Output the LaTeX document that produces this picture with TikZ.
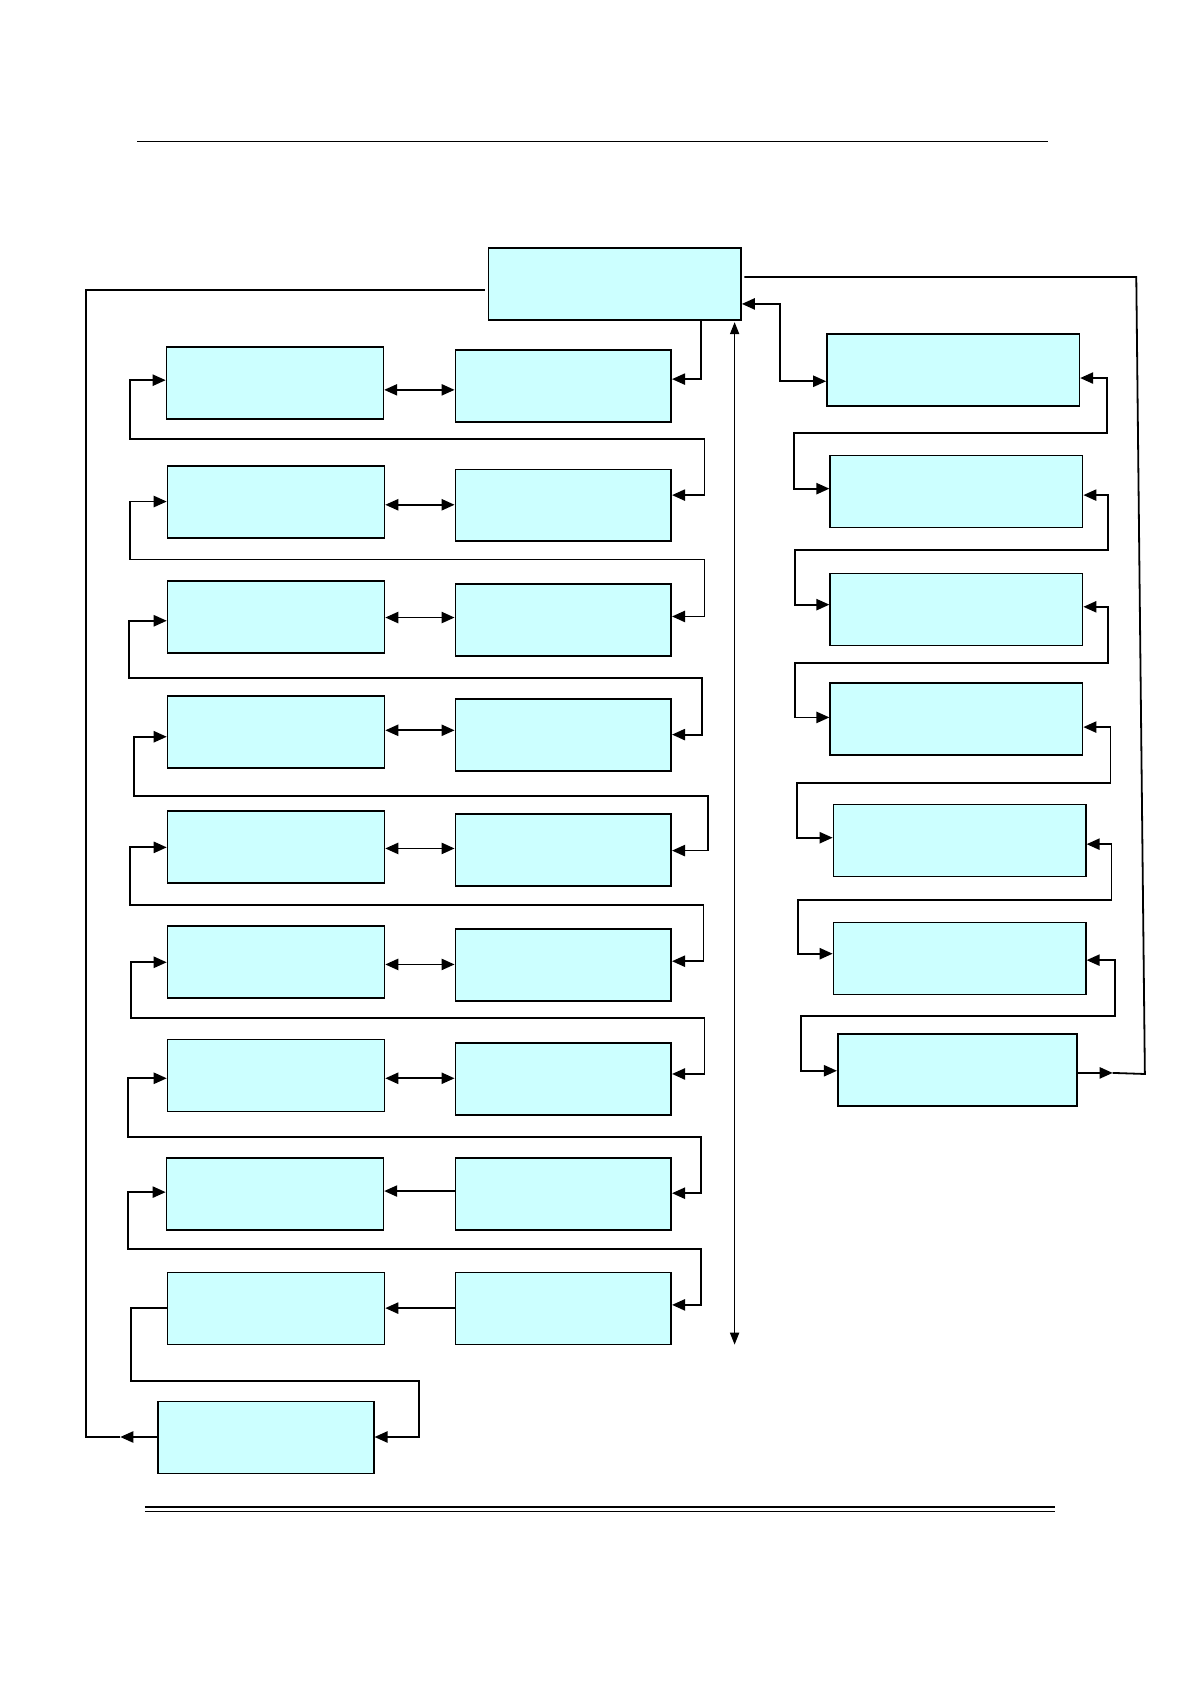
\documentclass[tikz,border=0pt]{standalone}
\usetikzlibrary{arrows.meta,fit}
\definecolor{boxfill}{HTML}{CCFFFF}
\tikzset{
  box/.style={draw=black, fill=boxfill, line width=0.8pt, inner sep=0pt},
  conn/.style={line width=0.9pt},
  tipR/.style={conn,-{Triangle[length=6.5pt,width=5.6pt]}},
  tipB/.style={conn,{Triangle[length=6.5pt,width=5.6pt]}-{Triangle[length=6.5pt,width=5.6pt]}},
}
\begin{document}
\begin{tikzpicture}[x=0.5372pt,y=-0.5372pt]
\useasboundingbox (0,0) rectangle (1108,1568);
% rules
\draw[line width=0.7pt] (128,132) -- (976,132);
\draw[line width=1.2pt] (135,1403) -- (982,1403);
\draw[line width=0.6pt] (135,1407.5) -- (982,1407.5);
% top box
\node[box, fit={(455,231)(690,298)}] (T) {};
% left and middle columns
\foreach \i/\ya/\yb/\xa in {1/323/326/155,2/434/437/156,3/541/544/156,4/648/651/156,5/755/758/156,6/862/865/156,7/968/971/156,8/1078/1078/155,9/1185/1185/156}{
  \node[box, fit={(\xa,\ya)({\xa+202},\ya+67)}] (L\i) {};
  \node[box, fit={(424,\yb)(625,\yb+67)}] (M\i) {};
}
\node[box, fit={(147,1305)(348,1372)}] (B) {};
% right column
\node[box, fit={(770,311)(1005,378)}] (R1) {};
\node[box, fit={(773,424)(1008,491)}] (R2) {};
\node[box, fit={(773,534)(1008,601)}] (R3) {};
\node[box, fit={(773,636)(1008,703)}] (R4) {};
\node[box, fit={(776,749)(1011,816)}] (R5) {};
\node[box, fit={(776,859)(1011,926)}] (R6) {};
\node[box, fit={(780,963)(1003,1030)}] (R7) {};
% top box to M1
\draw[tipR] (T.south -| 653,0) -- (653,353) -- (M1.east |- 0,353);
% L <-> M
\foreach \i/\y in {1/363,2/470,3/575,4/680,5/790,6/898,7/1004}{
  \draw[tipB] (L\i.east |- 0,\y) -- (M\i.west |- 0,\y);
}
\draw[tipR] (M8.west |- 0,1109) -- (L8.east |- 0,1109);
\draw[tipR] (M9.west |- 0,1218) -- (L9.east |- 0,1218);
% left serpentine loops
\foreach \i/\j/\ya/\xl/\yl/\xr/\yb in {1/2/354/121/409/656/461,2/3/467/121/521/656/574,3/4/578/120/631/654/684,4/5/686/125/741/659/792,5/6/789/121/843/655/895,6/7/896/122/948/656/1000,7/8/1004/119/1059/653/1111,8/9/1110/119/1163/653/1215}{
  \draw[tipB] (L\i.west |- 0,\ya) -- (\xl,\ya) -- (\xl,\yl) -- (\xr,\yl) -- (\xr,\yb) -- (M\j.east |- 0,\yb);
}
\draw[tipR] (L9.west |- 0,1218) -- (122,1218) -- (122,1286) -- (390,1286) -- (390,1338) -- (B.east |- 0,1338);
% outer left return
\coordinate (bl) at (112,1338);
\draw[tipR] (B.west |- 0,1338) -- (bl);
\draw[conn] (bl) -- (80,1338) -- (80,270) -- (452,270);
% vertical double arrow
\coordinate (vt) at (684,300);
\coordinate (vb) at (684,1252);
\draw[line width=0.6pt,{Triangle[length=6pt,width=4.6pt]}-{Triangle[length=6pt,width=4.6pt]}] (vt) -- (vb);
% top to R1
\draw[tipB] (T.east |- 0,283) -- (726,283) -- (726,355) -- (R1.west |- 0,355);
% right serpentine loops
\foreach \i/\j/\ya/\xr/\yl/\xl/\yb in {1/2/352/1031/403/739/455,2/3/461/1032/512/740/563,3/4/565/1032/617/740/668,4/5/677/1034/729/742/780,5/6/786/1035/838/743/888,6/7/894/1038/946/746/997}{
  \draw[tipB] (R\i.east |- 0,\ya) -- (\xr,\ya) -- (\xr,\yl) -- (\xl,\yl) -- (\xl,\yb) -- (R\j.west |- 0,\yb);
}
% outer right return
\coordinate (br) at (1036,999);
\draw[tipR] (R7.east |- 0,999) -- (br);
\draw[conn] (br) -- (1066,1000) -- (1058,258) -- (693,258);
\end{tikzpicture}
\end{document}
